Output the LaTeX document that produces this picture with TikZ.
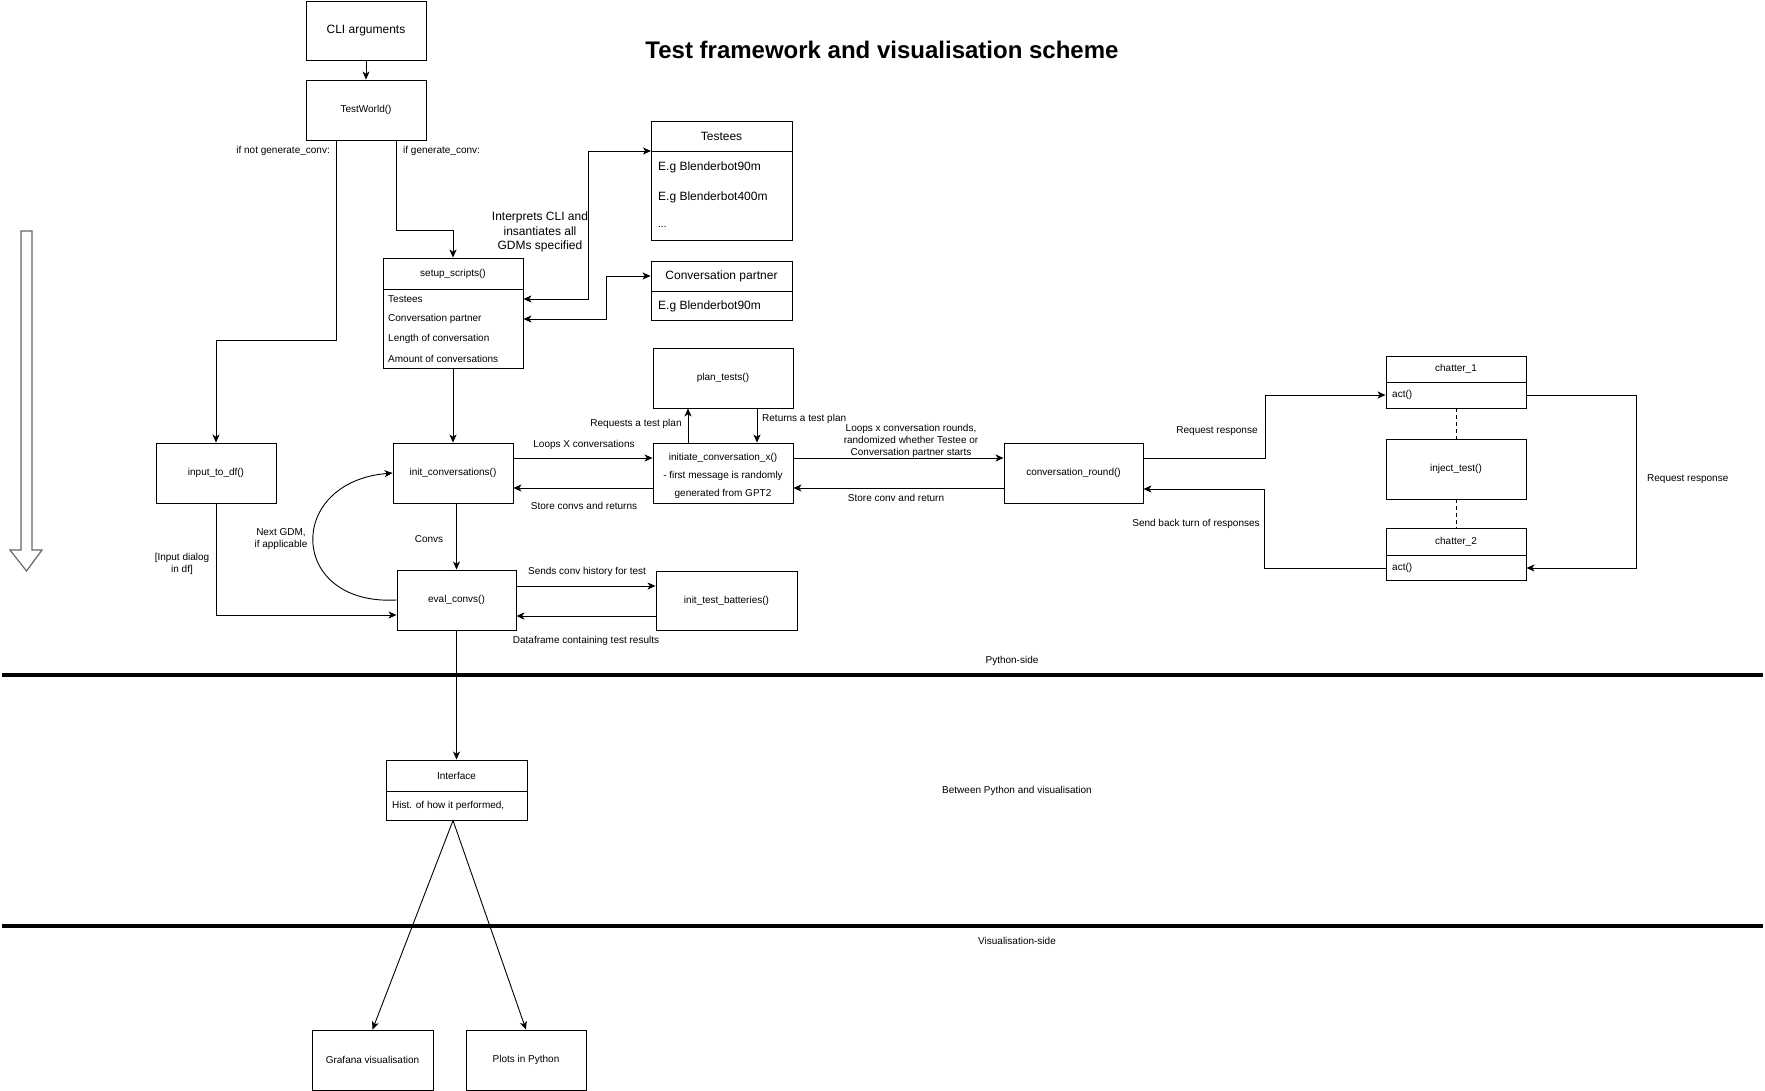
\documentclass[tikz,border=0pt]{standalone}
\usepackage{fontspec}
\setmainfont{Liberation Sans}
\usetikzlibrary{arrows.meta,calc}
\newcommand\fs{\fontsize{10}{12}\selectfont}
\newcommand\fm{\fontsize{12}{14.5}\selectfont}
\begin{document}
\begin{tikzpicture}[x=1pt,y=-1pt,
  box/.style={draw, line width=0.9pt, inner sep=0pt, font=\fs},
  lbl/.style={inner sep=0pt, font=\fs, align=center},
  lblm/.style={inner sep=0pt, font=\fm, align=center},
  sepline/.style={line width=0.9pt},
  arr/.style={line width=0.9pt, -{Stealth[length=8pt,width=7pt,inset=2.2pt]}},
  darr/.style={line width=0.9pt, {Stealth[length=8pt,width=7pt,inset=2.2pt]}-{Stealth[length=8pt,width=7pt,inset=2.2pt]}},
]
\useasboundingbox (0,0) rectangle (1765,1091);

% title
\node[inner sep=0pt, font=\fontsize{24}{28}\selectfont\bfseries] (title) at (882,50) {Test framework and visualisation scheme};

% big downward arrow
\draw[draw=black!60, fill=white, line width=1.2pt] (21,231) -- (32,231) -- (32,550) -- (42,550) -- (26.5,571) -- (10,550) -- (21,550) -- cycle;

% boxes
\node[box, font=\fm, minimum width=120pt, minimum height=59pt] (cli) at (366,30.5) {CLI arguments};
\node[box, minimum width=120pt, minimum height=60pt] (tw) at (366,110) {TestWorld()};

% setup_scripts
\node[box, minimum width=140pt, minimum height=110pt] (setup) at (453,313) {};
\draw[sepline] (383,289) -- (523,289);
\node[lbl] (setupH) at (453,273.5) {setup\_scripts()};
\node[lbl, anchor=west] (setupT) at (388,299) {Testees};
\node[lbl, anchor=west] (setupC) at (388,319) {Conversation partner};
\node[lbl, anchor=west] (setupL) at (388,339) {Length of conversation};
\node[lbl, anchor=west] (setupA) at (388,359) {Amount of conversations};

% Testees
\node[box, minimum width=141pt, minimum height=119pt] (testees) at (721.5,180.5) {};
\draw[sepline] (651,151) -- (792,151);
\coordinate (tsep) at (651,151);
\node[lblm] (testeesH) at (721.5,136) {Testees};
\node[lblm, anchor=west] (testeesA) at (658,167) {E.g Blenderbot90m};
\node[lblm, anchor=west] (testeesB) at (658,197) {E.g Blenderbot400m};
\node[lbl, anchor=west] (testeesC) at (658,227) {...};

% Conversation partner
\node[box, minimum width=141pt, minimum height=59pt] (cp) at (721.5,290.5) {};
\draw[sepline] (651,291) -- (792,291);
\node[lblm] (cpH) at (721.5,276) {Conversation partner};
\node[lblm, anchor=west] (cpA) at (658,306) {E.g Blenderbot90m};

\node[lblm] (interp) at (540,232) {Interprets CLI and\\insantiates all\\GDMs specified};

% middle row
\node[box, minimum width=140pt, minimum height=60pt] (plan) at (723,378) {plan\_tests()};
\node[box, minimum width=140pt, minimum height=60pt] (init) at (723,473) {};
\node[lbl] (initA) at (723,457.5) {initiate\_conversation\_x()};
\node[lbl] (initB) at (723,476) {- first message is randomly};
\node[lbl] (initC) at (723,494) {generated from GPT2};
\node[box, minimum width=120pt, minimum height=60pt] (input) at (216,473) {input\_to\_df()};
\node[box, minimum width=120pt, minimum height=60pt] (initconv) at (453,473) {init\_conversations()};
\node[box, minimum width=119pt, minimum height=60pt] (eval) at (456.5,600) {eval\_convs()};
\node[box, minimum width=141pt, minimum height=59pt] (batt) at (726.5,600.5) {init\_test\_batteries()};
\node[box, minimum width=139pt, minimum height=60pt] (round) at (1073.5,473) {conversation\_round()};

% chatters
\node[box, minimum width=140pt, minimum height=52pt] (ch1) at (1456,382) {};
\draw[sepline] (1386,382) -- (1526,382);
\node[lbl] (ch1H) at (1456,369) {chatter\_1};
\node[lbl, anchor=west] (ch1act) at (1392,395) {act()};
\node[box, minimum width=140pt, minimum height=60pt] (inject) at (1456,469) {inject\_test()};
\node[box, minimum width=140pt, minimum height=52pt] (ch2) at (1456,554) {};
\draw[sepline] (1386,555) -- (1526,555);
\node[lbl] (ch2H) at (1456,542) {chatter\_2};
\node[lbl, anchor=west] (ch2act) at (1392,568) {act()};

% interface and outputs
\node[box, minimum width=141pt, minimum height=60pt] (iface) at (456.5,790) {};
\draw[sepline] (386,791) -- (527,791);
\node[lbl] (ifaceH) at (456.5,776) {Interface};
\node[lbl, anchor=west] (ifaceA) at (392,806) {Hist. of how it performed,};
\node[box, minimum width=121pt, minimum height=60pt] (grafana) at (372.5,1060) {Grafana visualisation};
\node[box, minimum width=120pt, minimum height=60pt] (plots) at (526,1060) {Plots in Python};

% separators
\draw[line width=3.5pt] (2,675) -- (1763,675);
\draw[line width=3.5pt] (2,926) -- (1763,926);
\node[lbl] (py) at (1012,661) {Python-side};
\node[lbl] (between) at (1017,791) {Between Python and visualisation};
\node[lbl] (vis) at (1017,941) {Visualisation-side};

% connectors
\draw[arr] (cli) -- (tw);
\draw[arr] ([xshift=-30pt]tw.south) -- ++(0,200) -| (input.north);
\draw[arr] ([xshift=30pt]tw.south) -- ++(0,90) -| (setup.north);
\node[lbl, anchor=east] (ifnot) at (330,151) {if not generate\_conv:};
\node[lbl, anchor=west] (ifyes) at (403,151) {if generate\_conv:};

\draw[darr] (setup.east |- setupT) -- ++(65,0) |- (tsep);
\draw[darr] (setup.east |- setupC) -- ++(83,0) |- (cp.west |- cpH);

\draw[arr] (setup.south) -- (initconv.north);
\draw[arr] ([yshift=15pt]initconv.east) -- ([yshift=15pt]init.west);
\draw[arr] ([yshift=-15pt]init.west) -- ([yshift=-15pt]initconv.east);
\node[lbl] (loopsX) at (584,445) {Loops X conversations};
\node[lbl] (storeconvs) at (584,506) {Store convs and returns};

\draw[arr] ([xshift=-35pt]init.north) -- ([xshift=-35pt]plan.south);
\draw[arr] ([xshift=34pt]plan.south) -- ([xshift=34pt]init.north);
\node[lbl] (req) at (636,424) {Requests a test plan};
\node[lbl, anchor=west] (ret) at (762,419) {Returns a test plan};

\draw[arr] ([yshift=15pt]init.east) -- ([yshift=15pt]round.west);
\draw[arr] ([yshift=-15pt]round.west) -- ([yshift=-15pt]init.east);
\node[lbl] (loopsx) at (911,441) {Loops x conversation rounds,\\randomized whether Testee or\\Conversation partner starts};
\node[lbl] (storeconv) at (896,498) {Store conv and return};

\draw[arr] ([yshift=15pt]round.east) -- ++(122,0) |- (ch1.west |- ch1act);
\draw[arr] (ch2.west |- ch2act) -- ++(-121,0) |- ([yshift=-16pt]round.east);
\draw[arr] (ch1.east |- ch1act) -- ++(110,0) |- (ch2.east |- ch2act);
\draw[line width=0.9pt, dash pattern=on 4pt off 3pt] (ch1.south) -- (inject.north);
\draw[line width=0.9pt, dash pattern=on 4pt off 3pt] (inject.south) -- (ch2.north);
\node[lbl] (rr1) at (1217,431) {Request response};
\node[lbl] (sendback) at (1196,524) {Send back turn of responses};
\node[lbl, anchor=west] (rr2) at (1647,479) {Request response};

\draw[arr] (initconv.south -| eval.north) -- (eval.north);
\node[lbl] (convs) at (429,539) {Convs};
\draw[arr] (input.south) |- ([yshift=-15pt]eval.west);
\node[lbl] (inputdlg) at (182,564) {[Input dialog\\in df]};
\draw[arr] (eval.west) .. controls (288,606) and (285,482) .. (initconv.west);
\node[lbl] (nextgdm) at (281,539.5) {Next GDM,\\if applicable};

\draw[arr] ([yshift=14pt]eval.east) -- ([yshift=14pt]eval.east -| batt.west);
\draw[arr] ([yshift=-16pt]eval.east -| batt.west) -- ([yshift=-16pt]eval.east);
\node[lbl] (sends) at (587,572) {Sends conv history for test};
\node[lbl] (dataframe) at (586,641) {Dataframe containing test results};

\draw[arr] (eval.south) -- (iface.north);
\coordinate (apex) at ([xshift=-3.5pt]iface.south);
\draw[arr] (apex) -- (grafana.north);
\draw[arr] (apex) -- (plots.north);
\end{tikzpicture}
\end{document}
